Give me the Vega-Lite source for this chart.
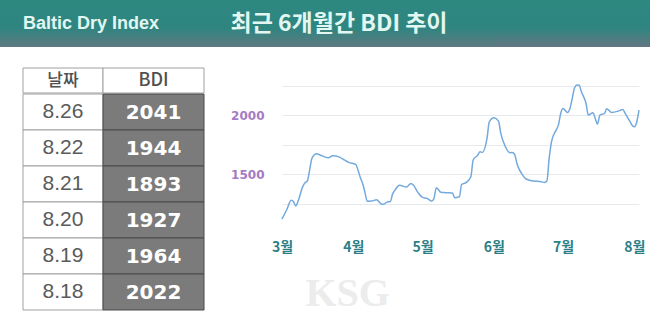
{
  "$schema": "https://vega.github.io/schema/vega-lite/v6.json",
  "padding": 0,
  "background": "white",
  "config": {"view": {"stroke": null}},
  "spacing": 20,
  "vconcat": [
    {
      "spacing": 0,
      "bounds": "flush",
      "hconcat": [
        {
          "width": 182, "height": 47,
          "data": {"values": [{"label": "Baltic Dry Index"}]},
          "layer": [
            {"mark": {"type": "rect", "fill": {"gradient": "linear", "x1": 0, "y1": 0, "x2": 0, "y2": 1, "stops": [{"offset": 0, "color": "#2d8880"}, {"offset": 0.6, "color": "#2f8580"}, {"offset": 1, "color": "#5f7a82"}]}}, "encoding": {}},
            {"mark": {"type": "text", "font": "Liberation Sans", "fontSize": 18, "fontWeight": "bold", "color": "#e2f7f2", "baseline": "middle"}, "encoding": {"text": {"field": "label"}}}
          ]
        },
        {
          "width": 314, "height": 47,
          "data": {"values": [{"label": "최근 6개월간 BDI 추이"}]},
          "layer": [
            {"mark": {"type": "rect", "fill": {"gradient": "linear", "x1": 0, "y1": 0, "x2": 0, "y2": 1, "stops": [{"offset": 0, "color": "#2d8880"}, {"offset": 0.6, "color": "#2f8580"}, {"offset": 1, "color": "#5f7a82"}]}}, "encoding": {}},
            {"mark": {"type": "text", "font": "Noto Sans CJK KR", "fontSize": 23, "fontWeight": "bold", "color": "#e2f7f2", "baseline": "middle"}, "encoding": {"text": {"field": "label"}}}
          ]
        },
        {
          "width": 154, "height": 47,
          "data": {"values": [{}]},
          "mark": {"type": "rect", "fill": {"gradient": "linear", "x1": 0, "y1": 0, "x2": 0, "y2": 1, "stops": [{"offset": 0, "color": "#2d8880"}, {"offset": 0.6, "color": "#2f8580"}, {"offset": 1, "color": "#657684"}]}},
          "encoding": {}
        }
      ]
    },
    {
      "spacing": 25,
      "hconcat": [
        {
          "spacing": 0,
          "hconcat": [
            {"width": 22, "height": 10, "data": {"values": [{}]}, "mark": {"type": "rect", "opacity": 0}, "encoding": {}},
            {
              "spacing": -1,
              "vconcat": [
                {
                  "spacing": 0,
                  "bounds": "flush",
                  "hconcat": [
                    {
                      "width": 80, "height": 25,
                      "data": {"values": [{"h": "날짜"}]},
                      "layer": [
                        {"mark": {"type": "rect", "fill": "white", "stroke": "#a0a0a0", "strokeWidth": 1}, "encoding": {}},
                        {"mark": {"type": "text", "font": "Noto Sans CJK KR", "fontSize": 17, "fontWeight": 500, "color": "#505050", "baseline": "middle"}, "encoding": {"text": {"field": "h"}}}
                      ]
                    },
                    {
                      "width": 101, "height": 25,
                      "data": {"values": [{"h": "BDI"}]},
                      "layer": [
                        {"mark": {"type": "rect", "fill": "white", "stroke": "#a0a0a0", "strokeWidth": 1}, "encoding": {}},
                        {"mark": {"type": "text", "font": "Noto Sans CJK KR", "fontSize": 18, "fontWeight": 500, "color": "#505050", "baseline": "middle"}, "encoding": {"text": {"field": "h"}}}
                      ]
                    }
                  ]
                },
                {
                  "spacing": 0,
                  "bounds": "flush",
                  "data": {"values": [
                    {"date": "8.26", "bdi": 2041},
                    {"date": "8.22", "bdi": 1944},
                    {"date": "8.21", "bdi": 1893},
                    {"date": "8.20", "bdi": 1927},
                    {"date": "8.19", "bdi": 1964},
                    {"date": "8.18", "bdi": 2022}
                  ]},
                  "hconcat": [
                    {
                      "width": 80, "height": 216,
                      "encoding": {"y": {"field": "date", "type": "nominal", "sort": null, "scale": {"paddingInner": 0, "paddingOuter": 0}, "axis": null}},
                      "layer": [
                        {"mark": {"type": "rect", "fill": "white", "stroke": "#a0a0a0", "strokeWidth": 1}},
                        {"mark": {"type": "text", "font": "Liberation Sans", "fontSize": 21, "color": "#5a5a5a", "baseline": "middle"}, "encoding": {"text": {"field": "date"}}}
                      ]
                    },
                    {
                      "width": 101, "height": 216,
                      "encoding": {"y": {"field": "date", "type": "nominal", "sort": null, "scale": {"paddingInner": 0, "paddingOuter": 0}, "axis": null}},
                      "layer": [
                        {"mark": {"type": "rect", "fill": "#7b7b7b", "stroke": "#4a4a4a", "strokeWidth": 1}},
                        {"mark": {"type": "text", "font": "DejaVu Sans", "fontSize": 20, "fontWeight": "bold", "color": "#ffffff", "baseline": "middle", "dy": 1}, "encoding": {"text": {"field": "bdi", "type": "quantitative", "format": "d"}}}
                      ]
                    }
                  ]
                }
              ]
            }
          ]
        },
        {
          "width": 357, "height": 165,
          "data": {"values": [
            {"day": "2025-03-01", "bdi": 1119}, {"day": "2025-03-03", "bdi": 1195}, {"day": "2025-03-05", "bdi": 1277}, {"day": "2025-03-06", "bdi": 1266},
            {"day": "2025-03-07", "bdi": 1229}, {"day": "2025-03-08", "bdi": 1271}, {"day": "2025-03-10", "bdi": 1393}, {"day": "2025-03-11", "bdi": 1427},
            {"day": "2025-03-12", "bdi": 1441}, {"day": "2025-03-13", "bdi": 1534}, {"day": "2025-03-14", "bdi": 1633}, {"day": "2025-03-16", "bdi": 1672},
            {"day": "2025-03-18", "bdi": 1658}, {"day": "2025-03-21", "bdi": 1638}, {"day": "2025-03-23", "bdi": 1655}, {"day": "2025-03-26", "bdi": 1644},
            {"day": "2025-03-28", "bdi": 1621}, {"day": "2025-03-30", "bdi": 1599}, {"day": "2025-04-02", "bdi": 1582}, {"day": "2025-04-03", "bdi": 1534},
            {"day": "2025-04-04", "bdi": 1470}, {"day": "2025-04-05", "bdi": 1420}, {"day": "2025-04-06", "bdi": 1345}, {"day": "2025-04-07", "bdi": 1270},
            {"day": "2025-04-09", "bdi": 1271}, {"day": "2025-04-11", "bdi": 1282}, {"day": "2025-04-13", "bdi": 1248}, {"day": "2025-04-14", "bdi": 1243},
            {"day": "2025-04-16", "bdi": 1266}, {"day": "2025-04-17", "bdi": 1266}, {"day": "2025-04-18", "bdi": 1330}, {"day": "2025-04-19", "bdi": 1362},
            {"day": "2025-04-21", "bdi": 1406}, {"day": "2025-04-24", "bdi": 1390}, {"day": "2025-04-26", "bdi": 1421}, {"day": "2025-04-27", "bdi": 1407},
            {"day": "2025-04-29", "bdi": 1345}, {"day": "2025-05-01", "bdi": 1302}, {"day": "2025-05-03", "bdi": 1294}, {"day": "2025-05-05", "bdi": 1271},
            {"day": "2025-05-06", "bdi": 1294}, {"day": "2025-05-07", "bdi": 1384}, {"day": "2025-05-09", "bdi": 1345}, {"day": "2025-05-11", "bdi": 1342},
            {"day": "2025-05-14", "bdi": 1339}, {"day": "2025-05-15", "bdi": 1299}, {"day": "2025-05-17", "bdi": 1308}, {"day": "2025-05-18", "bdi": 1412},
            {"day": "2025-05-20", "bdi": 1429}, {"day": "2025-05-22", "bdi": 1477}, {"day": "2025-05-23", "bdi": 1619}, {"day": "2025-05-25", "bdi": 1661},
            {"day": "2025-05-26", "bdi": 1689}, {"day": "2025-05-27", "bdi": 1684}, {"day": "2025-05-29", "bdi": 1802}, {"day": "2025-05-30", "bdi": 1943},
            {"day": "2025-06-01", "bdi": 1977}, {"day": "2025-06-03", "bdi": 1949}, {"day": "2025-06-04", "bdi": 1845}, {"day": "2025-06-06", "bdi": 1732},
            {"day": "2025-06-08", "bdi": 1681}, {"day": "2025-06-09", "bdi": 1684}, {"day": "2025-06-10", "bdi": 1667}, {"day": "2025-06-11", "bdi": 1590},
            {"day": "2025-06-12", "bdi": 1540}, {"day": "2025-06-13", "bdi": 1506}, {"day": "2025-06-15", "bdi": 1458}, {"day": "2025-06-18", "bdi": 1441},
            {"day": "2025-06-21", "bdi": 1438}, {"day": "2025-06-23", "bdi": 1429}, {"day": "2025-06-24", "bdi": 1441}, {"day": "2025-06-25", "bdi": 1633},
            {"day": "2025-06-26", "bdi": 1774}, {"day": "2025-06-28", "bdi": 1873}, {"day": "2025-06-29", "bdi": 1915}, {"day": "2025-06-30", "bdi": 2014},
            {"day": "2025-07-01", "bdi": 2056}, {"day": "2025-07-03", "bdi": 2023}, {"day": "2025-07-04", "bdi": 2056}, {"day": "2025-07-05", "bdi": 2141},
            {"day": "2025-07-06", "bdi": 2230}, {"day": "2025-07-07", "bdi": 2256}, {"day": "2025-07-08", "bdi": 2254}, {"day": "2025-07-09", "bdi": 2198},
            {"day": "2025-07-11", "bdi": 2099}, {"day": "2025-07-12", "bdi": 2000}, {"day": "2025-07-14", "bdi": 2020}, {"day": "2025-07-15", "bdi": 1972},
            {"day": "2025-07-16", "bdi": 1924}, {"day": "2025-07-17", "bdi": 2000}, {"day": "2025-07-19", "bdi": 2014}, {"day": "2025-07-20", "bdi": 2054},
            {"day": "2025-07-22", "bdi": 2023}, {"day": "2025-07-25", "bdi": 2034}, {"day": "2025-07-27", "bdi": 2048}, {"day": "2025-07-28", "bdi": 2014},
            {"day": "2025-07-30", "bdi": 1949}, {"day": "2025-07-31", "bdi": 1915}, {"day": "2025-08-01", "bdi": 1901}, {"day": "2025-08-02", "bdi": 1940},
            {"day": "2025-08-03", "bdi": 2042}
          ]},
          "mark": {"type": "line", "interpolate": "monotone", "color": "#74a9dd", "strokeWidth": 1.5},
          "encoding": {
            "x": {
              "field": "day", "type": "temporal",
              "scale": {"type": "utc", "domain": [{"year": 2025, "month": 3, "date": 1, "utc": true}, {"year": 2025, "month": 8, "date": 3, "utc": true}]},
              "axis": {
                "values": [
                  {"year": 2025, "month": 3, "date": 1, "utc": true},
                  {"year": 2025, "month": 4, "date": 1, "utc": true},
                  {"year": 2025, "month": 5, "date": 1, "utc": true},
                  {"year": 2025, "month": 6, "date": 1, "utc": true},
                  {"year": 2025, "month": 7, "date": 1, "utc": true},
                  {"year": 2025, "month": 8, "date": 1, "utc": true}
                ],
                "format": "%-m월",
                "labelColor": "#2c7f87", "labelFont": "Noto Sans CJK KR", "labelFontSize": 14, "labelFontWeight": "bold",
                "labelPadding": 7, "labelFlush": false,
                "ticks": false, "domain": false, "grid": false,
                "title": "KSG", "titleFont": "Liberation Serif", "titleFontSize": 40, "titleFontWeight": "bold",
                "titleColor": "#ececec", "titleAnchor": "start", "titleAlign": "left", "titlePadding": 19, "titleX": 23
              }
            },
            "y": {
              "field": "bdi", "type": "quantitative",
              "scale": {"domain": [1000, 2400], "nice": false, "zero": false},
              "axis": {
                "values": [1250, 1500, 1750, 2000, 2250],
                "format": "d",
                "labelExpr": "(datum.value == 1500 || datum.value == 2000) ? datum.label : ''",
                "labelColor": "#a57bc4", "labelFont": "DejaVu Sans", "labelFontSize": 12, "labelFontWeight": "bold",
                "labelPadding": 18, "ticks": false, "domain": false,
                "grid": true, "gridColor": "#e7eaed", "gridWidth": 1,
                "title": null
              }
            }
          }
        }
      ]
    }
  ]
}
